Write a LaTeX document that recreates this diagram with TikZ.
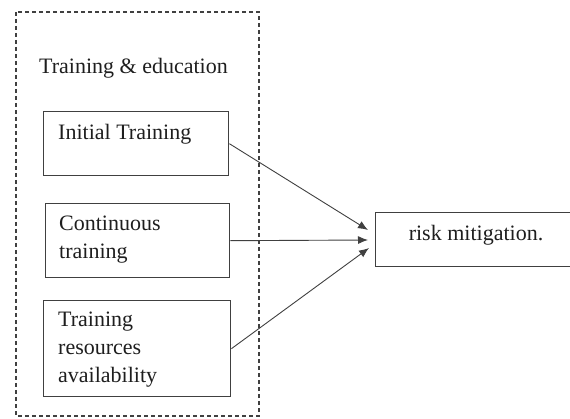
\documentclass[tikz,border=0pt]{standalone}
\usepackage{fontspec}
\setmainfont{Liberation Serif}
\usetikzlibrary{arrows.meta}
\definecolor{ink}{HTML}{1E1E1E}
\definecolor{edge}{HTML}{404040}
% stack of left-aligned lines whose baseline is that of the first line
\newcommand{\toplines}[1]{\vtop{\halign{##\hfil\cr#1\crcr}}}
\begin{document}
\begin{tikzpicture}[x=1pt,y=-1pt,
  every node/.style={font=\fontsize{22}{27.5}\selectfont, text=ink, inner sep=0pt},
  itembox/.style={draw=edge, line width=1.4pt, rectangle, inner sep=0pt},
  itemtext/.style={anchor=base west},
  group/.style={draw=edge, line width=1.6pt, dash pattern=on 4pt off 3pt},
  link/.style={draw=edge, line width=0.9pt, -{Latex[length=10pt,width=8pt]}}]
  \useasboundingbox (0,0) rectangle (570,419);

  % dashed group frame
  \draw[group] (16,12) rectangle (259,416);
  \node[anchor=base west] (title) at (39,74) {Training \& education};

  % input boxes
  \node[itembox, minimum width=185pt, minimum height=64pt, anchor=north west] (init) at (43,111) {};
  \node[itemtext] (initT) at (58,140) {Initial Training};

  \node[itembox, minimum width=184pt, minimum height=74pt, anchor=north west] (cont) at (45,203) {};
  \node[itemtext] (contT) at (59,231) {\toplines{Continuous\cr training}};

  \node[itembox, minimum width=187pt, minimum height=96pt, anchor=north west] (res) at (43,300) {};
  \node[itemtext] (resT) at (58,327) {\toplines{Training\cr resources\cr availability}};

  % outcome box
  \node[itembox, minimum width=196pt, minimum height=54pt, anchor=north west] (risk) at (375,212) {};
  \node[anchor=base] (riskT) at (476,241) {risk mitigation.};

  % arrow end points just left of the outcome box
  \coordinate (t1) at (368,230);
  \coordinate (t2) at (368,240);
  \coordinate (t3) at (369,248);

  \draw[link] (init.east) -- (t1);
  \draw[link] (cont.east) -- (t2);
  \draw[link] (res.east) -- (t3);
\end{tikzpicture}
\end{document}
